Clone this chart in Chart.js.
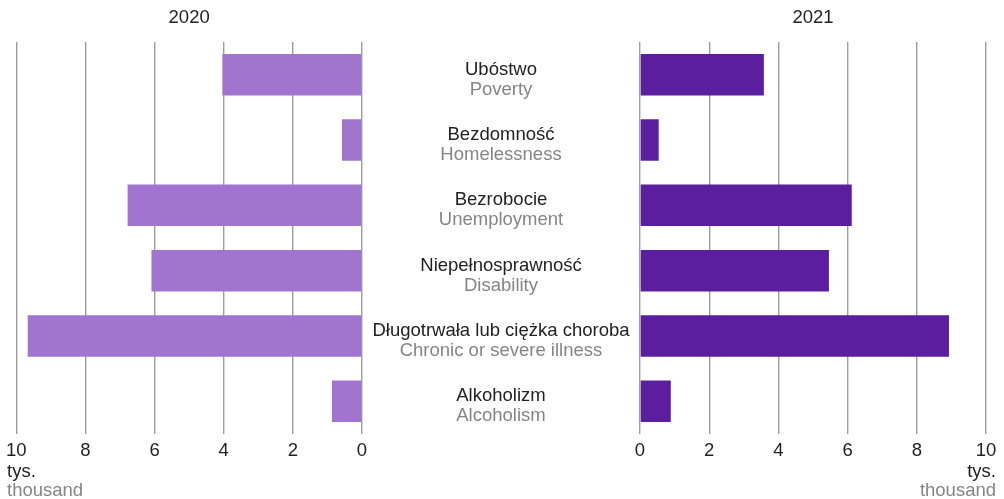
<!DOCTYPE html>
<html>
<head>
<meta charset="utf-8">
<script src="https://cdn.jsdelivr.net/npm/chart.js@4/dist/chart.umd.min.js"></script>
<style>
  html, body { margin: 0; padding: 0; background: #ffffff; }
  #wrap { position: relative; width: 1004px; height: 499px; }
  #wrap canvas { position: absolute; left: 0; top: 0; }
</style>
</head>
<body>
<div id="wrap">
  <canvas id="c2020" width="1004" height="499"></canvas>
  <canvas id="c2021" width="1004" height="499"></canvas>
</div>
<script>
// Reasons for receiving social assistance, thousands of families
const categoriesPl = ['Ubóstwo', 'Bezdomność', 'Bezrobocie', 'Niepełnosprawność', 'Długotrwała lub ciężka choroba', 'Alkoholizm'];
const categoriesEn = ['Poverty', 'Homelessness', 'Unemployment', 'Disability', 'Chronic or severe illness', 'Alcoholism'];
const values2020 = [4.04, 0.58, 6.78, 6.09, 9.67, 0.87];
const values2021 = [3.58, 0.54, 6.12, 5.46, 8.93, 0.89];
const yearLabels = ['2020', '2021'];
const unitPl = 'tys.';
const unitEn = 'thousand';

const FONT = "'Liberation Sans', Arial, Helvetica, sans-serif";
const FS = 18.5;
const DARK = '#222222';
const GREY = '#858585';
const GRID = '#9c9c9c';

Chart.defaults.font.family = FONT;
Chart.defaults.font.size = FS;
Chart.defaults.color = DARK;

function textFont(ctx) { ctx.font = FS + 'px ' + FONT; }

function makeOptions(reverse, padding) {
  return {
    indexAxis: 'y',
    responsive: false,
    animation: false,
    devicePixelRatio: 1,
    layout: { padding: padding },
    plugins: { legend: { display: false }, tooltip: { enabled: false }, title: { display: false } },
    scales: {
      x: {
        reverse: reverse,
        min: 0,
        max: 10,
        ticks: { stepSize: 2, padding: 6, color: DARK, font: { size: FS } },
        grid: { color: GRID, lineWidth: 1.4, drawTicks: false },
        border: { display: false },
        afterFit: s => { s.height = 40; }
      },
      y: { display: false }
    }
  };
}

function yearTitle(text) {
  return {
    id: 'yearTitle' + text,
    afterDraw(chart) {
      const ctx = chart.ctx, a = chart.chartArea;
      ctx.save();
      textFont(ctx);
      ctx.fillStyle = DARK;
      ctx.textAlign = 'center';
      ctx.textBaseline = 'alphabetic';
      ctx.fillText(text, (a.left + a.right) / 2, 23);
      ctx.restore();
    }
  };
}

function unitLabel(align, x) {
  return {
    id: 'unit' + align,
    afterDraw(chart) {
      const ctx = chart.ctx;
      ctx.save();
      textFont(ctx);
      ctx.textAlign = align;
      ctx.textBaseline = 'alphabetic';
      ctx.fillStyle = DARK;
      ctx.fillText(unitPl, x, 477);
      ctx.fillStyle = GREY;
      ctx.fillText(unitEn, x, 496);
      ctx.restore();
    }
  };
}

// category names between the two panels, placed on the shared category scale
const middleLabels = {
  id: 'middleLabels',
  afterDraw(chart) {
    const ctx = chart.ctx, y = chart.scales.y;
    ctx.save();
    textFont(ctx);
    ctx.textAlign = 'center';
    ctx.textBaseline = 'alphabetic';
    categoriesPl.forEach((pl, i) => {
      const cy = y.getPixelForValue(i);
      ctx.fillStyle = DARK;
      ctx.fillText(pl, 501, cy);
      ctx.fillStyle = GREY;
      ctx.fillText(categoriesEn[i], 501, cy + 20);
    });
    ctx.restore();
  }
};

new Chart(document.getElementById('c2020'), {
  type: 'bar',
  data: {
    labels: categoriesPl,
    datasets: [{
      data: values2020,
      backgroundColor: '#a175cf',
      categoryPercentage: 1,
      barPercentage: 0.635
    }]
  },
  options: makeOptions(true, { left: 16, right: 642, top: 42, bottom: 25 }),
  plugins: [yearTitle(yearLabels[0]), unitLabel('left', 7)]
});

new Chart(document.getElementById('c2021'), {
  type: 'bar',
  data: {
    labels: categoriesPl,
    datasets: [{
      data: values2021,
      backgroundColor: '#5a1e9e',
      categoryPercentage: 1,
      barPercentage: 0.635
    }]
  },
  options: makeOptions(false, { left: 640, right: 18, top: 42, bottom: 25 }),
  plugins: [yearTitle(yearLabels[1]), unitLabel('right', 996), middleLabels]
});
</script>
</body>
</html>
